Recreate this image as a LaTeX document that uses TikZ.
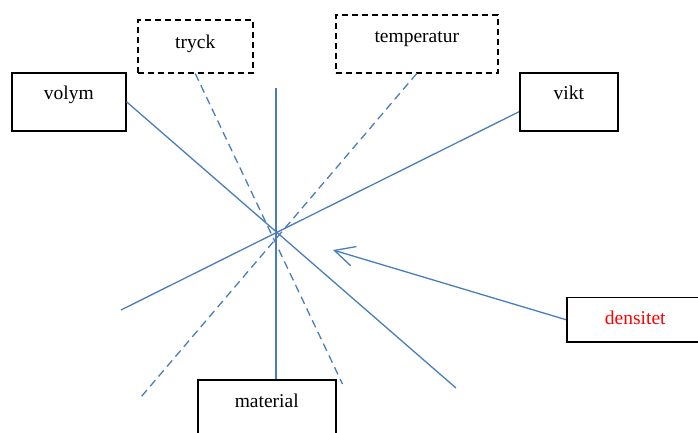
\documentclass[tikz,border=0pt]{standalone}
\usepackage{fontspec}
\setmainfont{Liberation Serif}
\usetikzlibrary{arrows.meta}
\definecolor{lineblue}{HTML}{4A7EBB}
\definecolor{textred}{HTML}{FF0000}
\begin{document}
\begin{tikzpicture}[x=1pt,y=-1pt,
  box/.style={draw=black,line width=1.5pt,anchor=north west,inner sep=0pt,
    text height=27.5pt,font=\fontsize{19.5}{23}\selectfont},
  dbox/.style={box,dash pattern=on 6pt off 4pt},
  link/.style={draw=lineblue,line width=1.3pt},
  dlink/.style={link,dash pattern=on 8pt off 5pt}]
\clip (0,0) rectangle (698,432);
\fill[white] (0,0) rectangle (698,432);
% boxes
\node[dbox,minimum width=115pt,minimum height=53pt,text height=29pt,text depth=24pt] (tryck) at (137,19) {tryck};
\node[dbox,minimum width=162pt,minimum height=58pt,text height=28pt,text depth=30pt] (temp) at (335,14) {temperatur};
\node[box,minimum width=114pt,minimum height=58pt,text height=27pt,text depth=31pt] (volym) at (11,72) {volym};
\node[box,minimum width=98pt,minimum height=58pt,text height=27pt,text depth=31pt] (vikt) at (519,72) {vikt};
\node[box,minimum width=137pt,minimum height=44.5pt,text height=27.5pt,text depth=17pt,text=textred] (dens) at (566,296.7) {densitet};
\node[box,minimum width=138pt,minimum height=62pt,text height=27.5pt,text depth=34.5pt] (mat) at (197,379.3) {material};
% free ends
\coordinate (volEnd) at (456,388);
\coordinate (viktEnd) at (121,310);
\coordinate (vtop) at (276,88);
\coordinate (tryEnd) at (342.5,384);
\coordinate (tempEnd) at (141,397);
\coordinate (arrTip) at (333,250);
% connectors
\draw[link] (volym.east) -- (volEnd);
\draw[link] ([yshift=-10pt]vikt.west) -- (viktEnd);
\draw[link] (vtop) -- (vtop |- mat.north);
\draw[dlink] (tryck.south) -- (tryEnd);
\draw[dlink] (temp.south) -- (tempEnd);
\draw[link,-{Straight Barb[length=20pt,width=20pt,line width=1.3pt]}] (dens.west) -- (arrTip);
\end{tikzpicture}
\end{document}
